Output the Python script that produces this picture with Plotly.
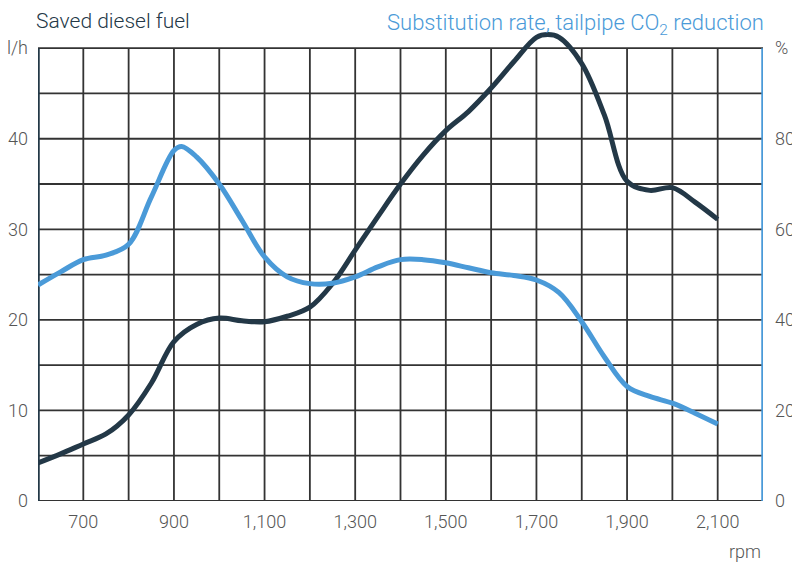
import plotly.graph_objects as go

# ---- data ----
rpm = [600, 650, 700, 750, 800, 850, 900, 950, 1000, 1050, 1100, 1150, 1200, 1250,
       1300, 1350, 1400, 1450, 1500, 1550, 1600, 1650, 1700, 1725, 1750, 1800, 1850,
       1900, 1950, 2000, 2050, 2100]
saved_fuel_lh = [4.2, 5.2, 6.3, 7.4, 9.5, 13.0, 17.6, 19.5, 20.2, 19.9, 19.8, 20.4, 21.4, 24.0,
                 27.7, 31.4, 35.0, 38.2, 40.9, 43.0, 45.6, 48.5, 51.2, 51.5, 51.2, 48.3, 42.6,
                 35.3, 34.3, 34.6, 33.0, 31.1]
rpm_b = [600, 650, 700, 750, 800, 850, 900, 917, 950, 1000, 1050, 1100, 1150, 1200, 1250,
         1300, 1350, 1400, 1450, 1500, 1550, 1600, 1650, 1700, 1750, 1800, 1850, 1900,
         1950, 2000, 2050, 2100]
substitution_pct = [47.7, 50.6, 53.3, 54.3, 56.7, 67.1, 77.4, 78.3, 76.0, 70.0, 62.0, 53.9, 49.5, 48.0, 48.1,
                    49.5, 51.7, 53.3, 53.3, 52.6, 51.5, 50.4, 49.8, 48.8, 46.0, 39.6, 31.8, 25.3,
                    23.1, 21.6, 19.4, 17.0]

x_ticks = [700, 900, 1100, 1300, 1500, 1700, 1900, 2100]
x_tick_labels = ["700", "900", "1,100", "1,300", "1,500", "1,700", "1,900", "2,100"]
left_ticks = [0, 10, 20, 30, 40, 50]
left_tick_labels = ["0", "10", "20", "30", "40", "l/h"]
right_ticks = [0, 20, 40, 60, 80, 100]
right_tick_labels = ["0", "20", "40", "60", "80", "%"]

DARK = "#233847"
BLUE = "#4a9ad8"
GRID = "#333333"
TXT = "#555555"
FONT = "Roboto, sans-serif"

fig = go.Figure()
fig.add_trace(go.Scatter(x=rpm_b, y=substitution_pct, yaxis="y2", mode="lines",
                         line=dict(color=BLUE, width=5, shape="spline", smoothing=1.0),
                         hoverinfo="skip", showlegend=False))
fig.add_trace(go.Scatter(x=rpm, y=saved_fuel_lh, mode="lines",
                         line=dict(color=DARK, width=5, shape="spline", smoothing=1.0),
                         hoverinfo="skip", showlegend=False))

shapes = []
for xv in range(600, 2201, 100):
    shapes.append(dict(type="line", xref="x", yref="y", x0=xv, x1=xv, y0=0, y1=50,
                       line=dict(color=GRID, width=1.8), layer="below"))
for yv in range(0, 51, 5):
    shapes.append(dict(type="line", xref="x", yref="y", x0=600, x1=2200, y0=yv, y1=yv,
                       line=dict(color=GRID, width=1.8), layer="below"))
shapes.append(dict(type="line", xref="x", yref="y", x0=600, x1=600, y0=0, y1=50,
                   line=dict(color=DARK, width=3.5), layer="below"))
shapes.append(dict(type="line", xref="x", yref="y", x0=2200, x1=2200, y0=0, y1=50,
                   line=dict(color=BLUE, width=3.5), layer="below"))

tickfont = dict(family=FONT, size=18, color=TXT, weight=300)

# the page puts the figure 8px in from the top-left corner
fig.update_layout(
    width=792, height=557,
    margin=dict(l=30, r=37, t=13, b=64, autoexpand=False),
    paper_bgcolor="white", plot_bgcolor="white",
    font=dict(family=FONT, size=18, color=TXT, weight=300),
    title=dict(text="Saved diesel fuel", xref="container", yref="container",
               x=28 / 792, xanchor="left", y=0.99, yanchor="top",
               pad=dict(t=0, l=0, b=0, r=0),
               font=dict(family=FONT, size=21, color=DARK, weight=300)),
    shapes=shapes,
    xaxis=dict(range=[600, 2200], tickvals=x_ticks, ticktext=x_tick_labels,
               showgrid=False, zeroline=False, showline=False, ticks="",
               ticklabelstandoff=8, automargin=False, tickfont=tickfont),
    yaxis=dict(range=[0, 53], tickvals=left_ticks, ticktext=left_tick_labels,
               showgrid=False, zeroline=False, showline=False, ticks="",
               ticklabelstandoff=9, automargin=False, tickfont=tickfont),
    yaxis2=dict(range=[0, 106], tickvals=right_ticks, ticktext=right_tick_labels,
                overlaying="y", side="right",
                showgrid=False, zeroline=False, showline=False, ticks="",
                ticklabelstandoff=11, automargin=False, tickfont=tickfont),
    annotations=[
        dict(text="Substitution rate, tailpipe CO<sub>2</sub> reduction", xref="paper", yref="paper",
             x=1.0, y=1.026, xanchor="right", yanchor="top", align="right", showarrow=False,
             borderpad=0, xshift=2, font=dict(family=FONT, size=22, color=BLUE, weight=300)),
        dict(text="rpm", xref="paper", yref="paper", x=1.0, y=-0.106,
             xanchor="right", yanchor="middle", align="right", showarrow=False,
             font=dict(family=FONT, size=18, color=TXT, weight=300)),
    ],
)

fig.write_html("out.html")
